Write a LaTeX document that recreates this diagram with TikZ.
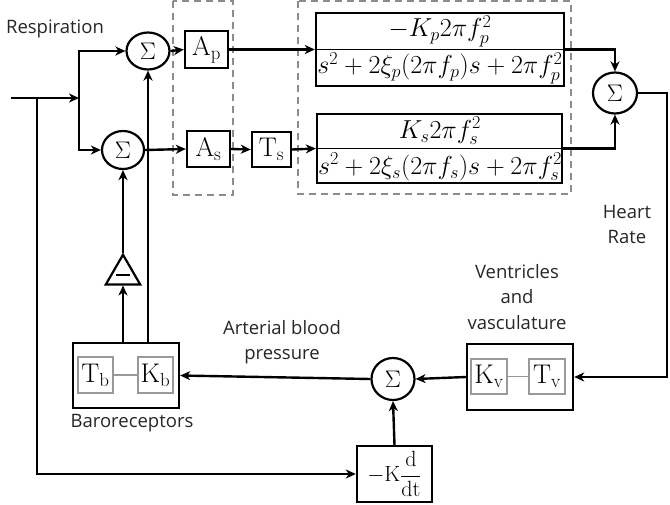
\RequirePackage{fix-cm}
\documentclass[tikz,border=0pt]{standalone}
\usepackage{fontspec}
\newfontfamily\labelfont{Open Sans}
\usetikzlibrary{arrows.meta,shapes.geometric}
\tikzset{
  line/.style={line width=2.4pt},
  arr/.style={line width=2.4pt, -{Stealth[length=10pt,width=9pt,inset=3pt]}},
  arrboth/.style={line width=2.4pt, {Stealth[length=10pt,width=9pt,inset=3pt]}-{Stealth[length=10pt,width=9pt,inset=3pt]}},
  sumnode/.style={draw, ellipse, line width=2.2pt, inner sep=0pt, font=\fontsize{24}{28}\selectfont},
  blk/.style={draw, rectangle, line width=2.4pt, inner sep=0pt, font=\fontsize{27}{30}\selectfont},
  innerbox/.style={draw=gray!80, rectangle, line width=1.3pt, inner sep=0pt, font=\fontsize{27}{30}\selectfont},
  mathtxt/.style={inner sep=0pt, font=\fontsize{26}{30}\selectfont},
  lbl/.style={font=\labelfont\fontsize{18.5}{25.5}\selectfont, text=black!85, align=center, inner sep=0pt},
  dashbox/.style={draw=gray!90, dash pattern=on 7pt off 5pt, line width=2pt},
}
\begin{document}
\begin{tikzpicture}[x=1pt,y=-1pt]
\useasboundingbox (0,0) rectangle (670,504);

% dashed groups
\draw[dashbox] (173,1) rectangle (233,195);
\draw[dashbox] (298,1) rectangle (571,194);

% sums
\node[sumnode, minimum width=43pt, minimum height=37pt] (sum1) at (148,51) {$\Sigma$};
\node[sumnode, minimum width=42pt, minimum height=38pt] (sum2) at (123,150) {$\Sigma$};
\node[sumnode, minimum width=44pt, minimum height=41pt] (sum3) at (615,93) {$\Sigma$};
\node[sumnode, minimum width=43pt, minimum height=42pt] (sum4) at (393,379) {$\Sigma$};

% gain blocks
\node[blk, minimum width=43pt, minimum height=37pt] (Ap) at (206.5,49.5) {$\mathrm{A_p}$};
\node[blk, minimum width=43pt, minimum height=36pt] (As) at (208.5,149) {$\mathrm{A_s}$};
\node[blk, minimum width=39pt, minimum height=35pt] (Ts) at (271.5,149.5) {$\mathrm{T_s}$};

% transfer function blocks
\node[blk, minimum width=248pt, minimum height=73pt] (fracP) at (440,49.5) {};
\draw[line width=1.4pt] (fracP.west) -- (fracP.east);
\node[mathtxt] (numP) at (440,31) {$-K_p 2\pi f_p^2$};
\node[mathtxt] (denP) at (440,68) {$s^2+2\xi_p(2\pi f_p)s+2\pi f_p^2$};

\node[blk, minimum width=245pt, minimum height=69pt] (fracS) at (439.5,148.5) {};
\draw[line width=1.4pt] (fracS.west) -- (fracS.east);
\node[mathtxt] (numS) at (440,131) {$K_s 2\pi f_s^2$};
\node[mathtxt] (denS) at (440,167) {$s^2+2\xi_s(2\pi f_s)s+2\pi f_s^2$};

% ventricles block
\node[blk, minimum width=106pt, minimum height=66pt] (vent) at (520,377) {};
\node[innerbox, minimum width=36pt, minimum height=35pt] (Kv) at (489,376.5) {$\mathrm{K_v}$};
\node[innerbox, minimum width=36pt, minimum height=35pt] (Tv) at (547,376.5) {$\mathrm{T_v}$};
\draw[gray!80, line width=1.3pt] (Kv) -- (Tv);

% baroreceptor block
\node[blk, minimum width=106pt, minimum height=65pt] (baro) at (126,375.5) {};
\node[innerbox, minimum width=35pt, minimum height=36pt] (Tb) at (95.5,375) {$\mathrm{T_b}$};
\node[innerbox, minimum width=35pt, minimum height=36pt] (Kb) at (155.5,375) {$\mathrm{K_b}$};
\draw[gray!80, line width=1.3pt] (Tb) -- (Kb);

% derivative block
\node[blk, minimum width=75pt, minimum height=56pt, font=\fontsize{22}{26}\selectfont] (deriv) at (394.5,474) {$-\mathrm{K}{\displaystyle\frac{\mathrm{d}}{\mathrm{dt}}}$};

% inverter triangle
\node[draw, regular polygon, regular polygon sides=3, minimum size=39pt, inner sep=0pt, line width=2.2pt] (tri) at (123,274.5) {\rule[-1pt]{14pt}{2pt}};

% labels
\node[lbl] (resp) at (55,29) {Respiration};
\node[lbl] (hrate) at (627,224.5) {Heart\\Rate};
\node[lbl] (ventlbl) at (517,297) {Ventricles\\and\\vasculature};
\node[lbl] (abp) at (282,342) {Arterial blood\\pressure};
\node[lbl] (barolbl) at (132,423) {Baroreceptors};

% connectors
\coordinate (in) at (11,98);
\coordinate (jn) at (37,98);
\coordinate (br) at (79,98);
\coordinate (hr) at (667,93);

\draw[arr] (in) -- (br);
\draw[arrboth] (sum1.west) -| (br) |- (sum2.west);
\draw[arr] (jn) |- (deriv.west);
\draw[arr] (sum1.east) -- (Ap.west);
\draw[arr] (Ap.east) -- (fracP.west);
\draw[arr] (sum2.east) -- (As.west);
\draw[arr] (As.east) -- (Ts.west);
\draw[arr] (Ts.east) -- (fracS.west);
\draw[arr] (fracP.east) -| (sum3.north);
\draw[arr] (fracS.east) -| (sum3.south);
\draw[arr] (sum3.east) -- (hr) |- (vent.east);
\draw[arr] (vent.west) -- (sum4.east);
\draw[arr] (sum4.west) -- (baro.east);
\draw[arr] (deriv.north) -- (sum4.south);
\draw[arr] (baro.north -| tri.south) -- (tri.south);
\draw[arr] (tri.corner 1) -- (sum2.south);
\draw[arr] (baro.north -| sum1.south) -- (sum1.south);
\end{tikzpicture}
\end{document}
